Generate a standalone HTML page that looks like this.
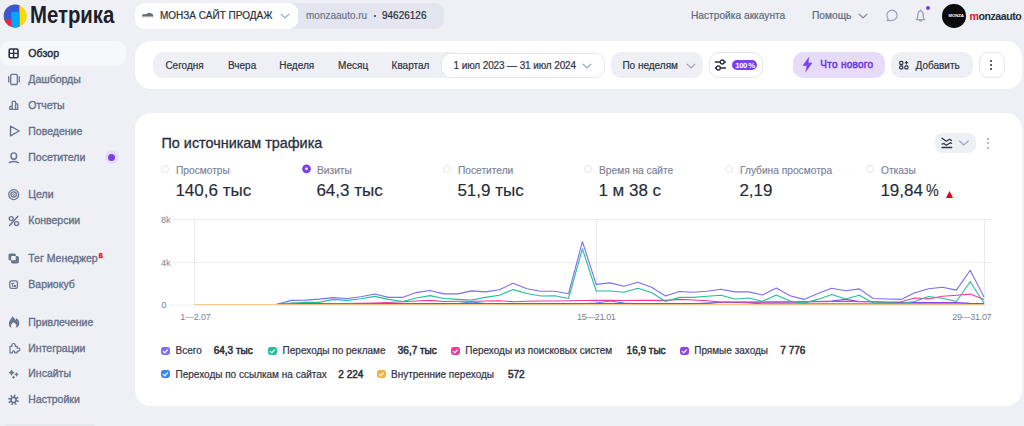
<!DOCTYPE html>
<html><head><meta charset="utf-8">
<style>
*{box-sizing:border-box;margin:0;padding:0}
html,body{width:1024px;height:426px;overflow:hidden;background:#eef0f5;font-family:"Liberation Sans",sans-serif;color:#2a2f3d}
.a{position:absolute}
.t{position:absolute;white-space:nowrap;line-height:1}
.nav{font-size:10.5px;font-weight:normal;color:#66708a;-webkit-text-stroke:0.35px #66708a}
.nav.act{color:#2b303d;-webkit-text-stroke:0.45px #2b303d;letter-spacing:0.12px}
.ic{position:absolute;overflow:visible}
.card{position:absolute;background:#fff;border-radius:16px}
.tb{font-size:10px;color:#2f3444;-webkit-text-stroke:0.2px currentColor}
.pill{position:absolute;border-radius:9px}
.ml{font-size:10.2px;color:#7a8296;-webkit-text-stroke:0.15px #7a8296}
.mv{font-size:17px;color:#262b38;-webkit-text-stroke:0.15px #262b38}
.lg{font-size:10px;color:#2f3444;-webkit-text-stroke:0.2px #2f3444}
.lb{font-size:10px;font-weight:normal;color:#2a2f3d;-webkit-text-stroke:0.5px #2a2f3d}
.cb{position:absolute;width:8.6px;height:8.6px;border-radius:2.4px}
.ax{font-size:9px;color:#7a8296}
</style></head>
<body>
<!-- logo -->
<svg class="ic" style="left:3px;top:4px" width="24" height="24" viewBox="0 0 24 24">
  <defs><clipPath id="lc"><circle cx="12.2" cy="11.9" r="11.5"/></clipPath></defs>
  <g clip-path="url(#lc)">
    <rect x="0" y="0" width="25" height="25" fill="#ffd700"/>
    <rect x="0" y="0" width="16.4" height="25" fill="#3b57d6"/>
    <rect x="0" y="15" width="8.5" height="10" fill="#f4214b"/>
    <rect x="8.2" y="7.8" width="8.2" height="19" rx="1.6" fill="#00a6ff"/>
  </g>
</svg>
<div class="t" style="left:30px;top:4.1px;font-size:23.5px;font-weight:bold;color:#1c202b;transform:scaleX(0.865);transform-origin:0 0">Метрика</div>

<!-- header site selector -->
<div class="a" style="left:135px;top:3px;width:309px;height:26px;background:#e3e6ee;border-radius:9px"></div>
<div class="a" style="left:135px;top:3px;width:163px;height:26px;background:#fff;border-radius:9px"></div>
<svg class="ic" style="left:140px;top:10px" width="16" height="10" viewBox="0 0 16 10"><path d="M2.2 6.6 V4.8 C2.2 4.4 2.6 4.3 3.2 4.2 L6.4 4 L8.2 3 H10.8 L12.3 4.1 C12.9 4.4 13.2 4.8 13.2 5.4 V6.6 Z" fill="#6a6f7a"/><path d="M3.2 6.5 V7.6 M5.2 6.5 V7.6 M7.6 6.5 V7.6 M10 6.5 V7.6 M12.4 6.5 V7.6" stroke="#8a8f99" stroke-width="0.7"/></svg>
<div class="t" style="left:160px;top:11.1px;font-size:10px;color:#2a2f3d;-webkit-text-stroke:0.2px #2a2f3d">МОНЗА САЙТ ПРОДАЖ</div>
<svg class="ic" style="left:280px;top:13px" width="10" height="6" viewBox="0 0 10 6"><path d="M0.8 0.8 L5 5 L9.2 0.8" stroke="#9aa2b4" stroke-width="1.2" fill="none"/></svg>
<div class="t" style="left:306px;top:11.1px;font-size:10px;color:#66708c;-webkit-text-stroke:0.15px #66708c">monzaauto.ru</div>
<div class="a" style="left:374px;top:15px;width:2.3px;height:2.3px;border-radius:50%;background:#2a2f3d"></div>
<div class="t" style="left:382px;top:11.1px;font-size:10px;color:#2a2f3d;-webkit-text-stroke:0.2px #2a2f3d">94626126</div>

<!-- header right -->
<div class="t" style="left:691px;top:11.4px;font-size:10.2px;color:#606a80;-webkit-text-stroke:0.2px #606a80">Настройка аккаунта</div>
<div class="t" style="left:812px;top:11.4px;font-size:10.2px;color:#606a80;-webkit-text-stroke:0.2px #606a80">Помощь</div>
<svg class="ic" style="left:858px;top:13px" width="10" height="6" viewBox="0 0 10 6"><path d="M0.8 0.8 L5 5 L9.2 0.8" stroke="#7d869a" stroke-width="1.2" fill="none"/></svg>
<svg class="ic" style="left:880px;top:4px" width="56" height="24" viewBox="880 4 56 24"><path d="M888 19.9 L887.2 20.6 L891.8 20.4 A5.1 5.1 0 1 0 887.8 18.2 Z" stroke="#9ba4b9" stroke-width="1.3" fill="none" stroke-linejoin="round"/></svg>
<svg class="ic" style="left:880px;top:4px" width="56" height="24" viewBox="880 4 56 24"><path d="M920.5 10.6 C918.6 11.2 917.9 12.8 917.8 14.8 L917.5 18.2 L916.2 19.6 H924.8 L923.5 18.2 L923.2 14.8 C923.1 12.8 922.4 11.2 920.5 10.6 Z M920.5 10.6 V9.9 M919.4 20.4 C919.8 21.3 921.2 21.3 921.6 20.4" stroke="#9ba4b9" stroke-width="1.3" fill="none" stroke-linejoin="round" stroke-linecap="round"/></svg>
<div class="a" style="left:925.8px;top:6.1px;width:4.3px;height:4.3px;border-radius:50%;background:#7b3fe8"></div>
<div class="a" style="left:942px;top:4px;width:23.5px;height:23.5px;border-radius:50%;background:#0b0b0d"></div>
<div class="t" style="left:948.5px;top:13.8px;font-size:4.3px;font-weight:bold;color:#fff;letter-spacing:-0.1px">MONZA</div>
<div class="t" style="left:969.5px;top:10.5px;font-size:10.6px;font-weight:bold;color:#2b2f3a;letter-spacing:-0.45px"><span style="color:#e3162b">m</span>onzaauto</div>

<!-- sidebar -->
<div class="a" style="left:0;top:40.5px;width:126px;height:25.5px;background:#f7f8fb;border-radius:10px"></div>
<svg class="ic" style="left:8px;top:48px" width="11" height="11" viewBox="0 0 11 11"><rect x="1.2" y="1" width="8.8" height="8.8" rx="1.2" stroke="#2a2f3d" stroke-width="1.6" fill="none"/><path d="M5.6 1 V9.8 M1.2 5.4 H10" stroke="#2a2f3d" stroke-width="1.4"/></svg>
<div class="t nav act" style="left:28.3px;top:47.8px">Обзор</div>

<svg class="ic" style="left:8px;top:73px" width="13" height="12" viewBox="0 0 13 12"><rect x="2.7" y="1.3" width="6.6" height="10.2" rx="1.1" stroke="#6b7590" stroke-width="1.3" fill="none"/><path d="M0.7 3.2 V9.6 M11.3 3.2 V9.6" stroke="#6b7590" stroke-width="1.3"/></svg>
<div class="t nav" style="left:28.3px;top:73.8px">Дашборды</div>

<svg class="ic" style="left:6px;top:98px" width="16" height="16" viewBox="0 0 16 16"><path d="M3.85 11.35 V8.9 Q3.85 8.35 4.4 8.35 H6.2 V4 Q6.2 3.45 6.75 3.45 H9.05 Q9.6 3.45 9.6 4 V5.95 H11.2 Q11.75 5.95 11.75 6.5 V11.35 Z M6.2 8.35 V11.35 M9.6 5.95 V11.35" stroke="#6b7590" stroke-width="1.3" fill="none" stroke-linejoin="round"/></svg>
<div class="t nav" style="left:28.3px;top:99.8px">Отчеты</div>

<svg class="ic" style="left:9px;top:125px" width="12" height="12" viewBox="0 0 12 12"><path d="M1.5 1.2 L10.2 6 L1.5 10.8 Z" stroke="#6b7590" stroke-width="1.4" fill="none" stroke-linejoin="round"/></svg>
<div class="t nav" style="left:28.3px;top:126.0px">Поведение</div>

<svg class="ic" style="left:6px;top:150px" width="16" height="16" viewBox="0 0 16 16"><ellipse cx="7.8" cy="6" rx="2.85" ry="3.15" stroke="#6b7590" stroke-width="1.45" fill="none"/><path d="M3.3 12.6 Q7.8 10.4 12.3 12.6" stroke="#6b7590" stroke-width="1.45" fill="none" stroke-linecap="round"/></svg>
<div class="t nav" style="left:28.3px;top:152.1px">Посетители</div>
<div class="a" style="left:104.5px;top:150px;width:14px;height:14px;border-radius:50%;background:#e7ddfb"></div>
<div class="a" style="left:108px;top:153.5px;width:7px;height:7px;border-radius:50%;background:#7b3fe8"></div>

<svg class="ic" style="left:6px;top:187px" width="16" height="16" viewBox="0 0 16 16"><g stroke="#6b7590" fill="none"><circle cx="7.7" cy="7.6" r="4.95" stroke-width="1.3"/><circle cx="7.7" cy="7.6" r="2.65" stroke-width="1.3"/><circle cx="7.7" cy="7.6" r="0.8" stroke-width="1"/></g></svg>
<div class="t nav" style="left:28.3px;top:189.2px">Цели</div>

<svg class="ic" style="left:8px;top:215px" width="12" height="12" viewBox="0 0 12 12"><circle cx="3.2" cy="3.6" r="2" stroke="#6b7590" stroke-width="1.4" fill="none"/><circle cx="8.6" cy="8.6" r="2" stroke="#6b7590" stroke-width="1.4" fill="none"/><path d="M9.8 1.4 L1.6 10.4" stroke="#6b7590" stroke-width="1.5" stroke-linecap="round"/></svg>
<div class="t nav" style="left:28.3px;top:215.3px">Конверсии</div>

<svg class="ic" style="left:6px;top:250px" width="16" height="16" viewBox="0 0 16 16"><g fill="#6b7590"><rect x="2.5" y="3.5" width="7.4" height="6.9" rx="1.6"/><rect x="5" y="5.9" width="7.9" height="7.5" rx="1.6"/></g><rect x="5.2" y="6.1" width="4.5" height="4.1" rx="0.4" fill="#eef0f5"/></svg>
<div class="t nav" style="left:28.3px;top:252.8px">Тег Менеджер</div>
<div class="t" style="left:98.6px;top:252px;font-size:7.2px;font-weight:bold;color:#e0142d;-webkit-text-stroke:0.4px #e0142d">ß</div>

<svg class="ic" style="left:6px;top:250px" width="16" height="42" viewBox="0 0 16 42"><rect x="3.8" y="30.8" width="7.6" height="7.5" rx="1.6" stroke="#6b7590" stroke-width="1.3" fill="none"/><path d="M5.2 33.4 H8.4 M6.4 33.4 V36.8" stroke="#6b7590" stroke-width="1"/><rect x="7.6" y="35" width="2.4" height="2" fill="#6b7590"/></svg>
<div class="t nav" style="left:28.3px;top:278.9px">Вариокуб</div>

<svg class="ic" style="left:6px;top:314px" width="16" height="16" viewBox="0 0 16 16"><path d="M6.4 2.2 C8 3.6 9 4.8 9.6 6.2 C10 5.4 10.3 4.7 10.5 4.1 C12.3 5.6 13.3 7.6 13.3 9.6 C13.3 11.8 12 13 10.2 13.6 L9.4 13.6 C10.2 12.8 10.4 12 10.3 11.2 C10.1 10.2 9.2 9.2 7.6 8.2 C6 9.2 5.1 10.2 4.9 11.2 C4.8 12 5 12.8 5.8 13.6 L5 13.6 C3.4 12.9 2.9 11.6 2.9 9.9 C2.9 7.6 4 6.2 5 4.8 C5.6 4 6.2 3.2 6.4 2.2 Z" fill="#6b7590"/></svg>
<div class="t nav" style="left:28.3px;top:316.6px">Привлечение</div>

<svg class="ic" style="left:8.5px;top:342px" width="12" height="12" viewBox="0 0 12 12"><path d="M1 10.8 V4.4 H3 C2.6 3.4 3 1.5 4.6 1.5 C6.2 1.5 6.6 3.4 6.2 4.4 H8.2 V6.2 C9.4 5.8 11 6.4 11 7.6 C11 8.8 9.4 9.4 8.2 9 V10.8 H5.6 C5.9 9.8 5.5 8.8 4.6 8.8 C3.7 8.8 3.3 9.8 3.6 10.8 Z" stroke="#6b7590" stroke-width="1.2" fill="none" stroke-linejoin="round"/></svg>
<div class="t nav" style="left:28.3px;top:342.5px">Интеграции</div>

<svg class="ic" style="left:6px;top:366px" width="16" height="16" viewBox="0 0 16 16"><path d="M5.60 3.50 Q6.47 5.73 8.70 6.60 Q6.47 7.47 5.60 9.70 Q4.73 7.47 2.50 6.60 Q4.73 5.73 5.60 3.50 Z M10.50 6.30 Q11.12 7.88 12.70 8.50 Q11.12 9.12 10.50 10.70 Q9.88 9.12 8.30 8.50 Q9.88 7.88 10.50 6.30 Z M7.50 9.60 Q7.98 10.82 9.20 11.30 Q7.98 11.78 7.50 13.00 Q7.02 11.78 5.80 11.30 Q7.02 10.82 7.50 9.60 Z" fill="#6b7590"/></svg>
<div class="t nav" style="left:28.3px;top:368.4px">Инсайты</div>

<svg class="ic" style="left:6px;top:392px" width="16" height="16" viewBox="0 0 16 16"><path fill-rule="evenodd" fill="#6b7590" d="M7.68 4.50 L8.27 2.45 L9.74 2.88 L9.15 4.93 L10.03 5.62 L11.89 4.59 L12.63 5.93 L10.77 6.96 L10.90 8.08 L12.95 8.67 L12.52 10.14 L10.47 9.55 L9.78 10.43 L10.81 12.29 L9.47 13.03 L8.44 11.17 L7.32 11.30 L6.73 13.35 L5.26 12.92 L5.85 10.87 L4.97 10.18 L3.11 11.21 L2.37 9.87 L4.23 8.84 L4.10 7.72 L2.05 7.13 L2.48 5.66 L4.53 6.25 L5.22 5.37 L4.19 3.51 L5.53 2.77 L6.56 4.63 Z M9.25 7.90 A1.75 1.75 0 1 0 5.75 7.90 A1.75 1.75 0 1 0 9.25 7.90 Z"/></svg>
<div class="t nav" style="left:28.3px;top:394.3px">Настройки</div>

<div class="a" style="left:4px;top:424.3px;width:92px;height:10px;border-radius:7px;background:#e4e7ee"></div>

<!-- toolbar card -->
<div class="card" style="left:135px;top:40.5px;width:887px;height:48.5px"></div>
<div class="pill" style="left:152.5px;top:52px;width:312px;height:25.8px;background:#eef0f5;border-radius:10px"></div>
<div class="t tb" style="left:165.4px;top:61px">Сегодня</div>
<div class="t tb" style="left:228px;top:61px">Вчера</div>
<div class="t tb" style="left:279.3px;top:61px">Неделя</div>
<div class="t tb" style="left:338px;top:61px">Месяц</div>
<div class="t tb" style="left:391.6px;top:61px">Квартал</div>
<div class="pill" style="left:441.2px;top:52.6px;width:163.5px;height:25px;background:#fff;border:1px solid #e6e8ef;border-radius:10px"></div>
<div class="t tb" style="left:453.6px;top:61px;letter-spacing:-0.12px">1 июл 2023 — 31 июл 2024</div>
<svg class="ic" style="left:581.5px;top:62.5px" width="10" height="6" viewBox="0 0 10 6"><path d="M0.8 0.8 L5 5 L9.2 0.8" stroke="#9aa2b4" stroke-width="1.2" fill="none"/></svg>
<div class="pill" style="left:611px;top:52px;width:92px;height:26px;background:#eef0f5;border-radius:10px"></div>
<div class="t tb" style="left:622.4px;top:61px">По неделям</div>
<svg class="ic" style="left:685.5px;top:62.5px" width="10" height="6" viewBox="0 0 10 6"><path d="M0.8 0.8 L5 5 L9.2 0.8" stroke="#9aa2b4" stroke-width="1.2" fill="none"/></svg>
<div class="pill" style="left:709px;top:52px;width:54px;height:25.5px;background:#fff;border:1px solid #e4e6ee;border-radius:10px"></div>
<svg class="ic" style="left:714px;top:59px" width="13" height="12" viewBox="0 0 13 12"><path d="M0.8 3 H12 M0.8 9 H12" stroke="#2a2f3d" stroke-width="1.3"/><circle cx="8.2" cy="3" r="2" fill="#fff" stroke="#2a2f3d" stroke-width="1.3"/><circle cx="4.3" cy="9" r="2" fill="#fff" stroke="#2a2f3d" stroke-width="1.3"/></svg>
<div class="pill" style="left:732px;top:60px;width:24.5px;height:9.6px;background:#7b42ea;border-radius:5px"></div>
<div class="t" style="left:735.3px;top:61.6px;font-size:7.8px;font-weight:bold;color:#fff;letter-spacing:-0.45px">100<span style="letter-spacing:-1px"> </span>%</div>

<div class="pill" style="left:793px;top:52px;width:92px;height:25.5px;background:#e6dcfa;border-radius:10px"></div>
<svg class="ic" style="left:801.5px;top:57px" width="11" height="15" viewBox="0 0 11 15"><path d="M6.8 0.5 L1 8.6 H5 L3.8 14.5 L10 6 H6 Z" fill="#7b42ea" stroke="#7b42ea" stroke-width="0.6" stroke-linejoin="round"/></svg>
<div class="t tb" style="left:820.3px;top:60.3px;font-weight:normal;color:#6d3ad8;font-size:10px;letter-spacing:0.28px;-webkit-text-stroke:0.5px #6d3ad8">Что нового</div>
<div class="pill" style="left:891px;top:52px;width:81.5px;height:25.5px;background:#eef0f5;border-radius:10px"></div>
<svg class="ic" style="left:899px;top:60px" width="10" height="10" viewBox="0 0 10 10"><g stroke="#2a2f3d" stroke-width="1.1" fill="none"><rect x="0.7" y="1.4" width="3.2" height="3" rx="1"/><rect x="0.7" y="5.9" width="3.2" height="3" rx="1"/><rect x="5.8" y="5.9" width="3.2" height="3" rx="1"/><path d="M7.4 1 V4.6 M5.6 2.8 H9.2"/></g></svg>
<div class="t tb" style="left:915.5px;top:61px">Добавить</div>
<div class="pill" style="left:978.5px;top:52px;width:26px;height:25.5px;background:#fff;border:1px solid #e4e6ee;border-radius:9px"></div>
<div class="a" style="left:990px;top:59.5px;width:2.4px;height:2.4px;border-radius:50%;background:#2a2f3d"></div>
<div class="a" style="left:990px;top:63.8px;width:2.4px;height:2.4px;border-radius:50%;background:#2a2f3d"></div>
<div class="a" style="left:990px;top:68.1px;width:2.4px;height:2.4px;border-radius:50%;background:#2a2f3d"></div>

<!-- main card -->
<div class="card" style="left:135px;top:112.5px;width:887px;height:293.5px"></div>
<div class="t" style="left:161.5px;top:135.7px;font-size:14.4px;color:#2a2f3d;-webkit-text-stroke:0.3px #2a2f3d">По источникам трафика</div>
<div class="pill" style="left:935px;top:133px;width:40.5px;height:20px;background:#eef0f5;border-radius:8px"></div>
<svg class="ic" style="left:932px;top:130px" width="48" height="26" viewBox="932 130 48 26"><path d="M942 138.2 L946.4 141.2 L949.6 139.3 L951.5 140.5 M942 144.1 L943.9 143.5 L946.4 145.2 L950.3 142.7 L951.5 143.3 M942 147.5 H951.7" stroke="#2f3444" stroke-width="1.3" fill="none" stroke-linecap="round" stroke-linejoin="round"/></svg>
<svg class="ic" style="left:932px;top:130px" width="48" height="26" viewBox="932 130 48 26"><path d="M959.4 140.7 L963.7 144.9 L968.6 140.7" stroke="#9aa5bd" stroke-width="1.3" fill="none"/></svg>
<div class="a" style="left:987.3px;top:137.6px;width:2px;height:2px;border-radius:50%;background:#9aa3b5"></div>
<div class="a" style="left:987.3px;top:142.3px;width:2px;height:2px;border-radius:50%;background:#9aa3b5"></div>
<div class="a" style="left:987.3px;top:147px;width:2px;height:2px;border-radius:50%;background:#9aa3b5"></div>

<!-- metrics -->
<div class="a" style="left:161.3px;top:165.3px;width:8px;height:8px;border-radius:50%;border:1px solid #e3e5ea"></div>
<div class="t ml" style="left:176px;top:166px">Просмотры</div>
<div class="t mv" style="left:175.4px;top:182.3px">140,6 тыс</div>

<svg class="ic" style="left:300px;top:163px" width="13" height="13" viewBox="0 0 13 13"><circle cx="6.5" cy="5.85" r="2.85" stroke="#7b42ea" stroke-width="3.1" fill="#fff"/></svg>
<div class="t ml" style="left:317px;top:166px">Визиты</div>
<div class="t mv" style="left:316.4px;top:182.3px">64,3 тыс</div>

<div class="a" style="left:443.3px;top:165.3px;width:8px;height:8px;border-radius:50%;border:1px solid #e3e5ea"></div>
<div class="t ml" style="left:458px;top:166px">Посетители</div>
<div class="t mv" style="left:457.4px;top:182.3px">51,9 тыс</div>

<div class="a" style="left:584.3px;top:165.3px;width:8px;height:8px;border-radius:50%;border:1px solid #e3e5ea"></div>
<div class="t ml" style="left:599px;top:166px">Время на сайте</div>
<div class="t mv" style="left:598.4px;top:182.3px">1 м 38 с</div>

<div class="a" style="left:725.3px;top:165.3px;width:8px;height:8px;border-radius:50%;border:1px solid #e3e5ea"></div>
<div class="t ml" style="left:740px;top:166px">Глубина просмотра</div>
<div class="t mv" style="left:739.4px;top:182.3px">2,19</div>

<div class="a" style="left:866.3px;top:165.3px;width:8px;height:8px;border-radius:50%;border:1px solid #e3e5ea"></div>
<div class="t ml" style="left:881px;top:166px">Отказы</div>
<div class="t mv" style="left:880.4px;top:182.3px">19,84<span style="position:absolute;left:45.2px;top:0;display:inline-block;transform:scaleX(0.84);transform-origin:0 0">%</span></div>
<svg class="ic" style="left:946px;top:190.5px" width="7" height="7" viewBox="0 0 7 7"><path d="M3.5 0.1 L7 7 H0 Z" fill="#e0001a"/></svg>

<!-- chart -->
<svg class="ic" style="left:0;top:0" width="1024" height="426" viewBox="0 0 1024 426">
  <g stroke="#e9ebf0" stroke-width="1">
    <path d="M173 219.5 H992 M173 262.5 H992 M169 305 H992"/>
    <path d="M194.5 219 V308 M596.5 219 V308 M984.5 219 V308"/>
  </g>
  <g fill="none" stroke-width="1.1" stroke-linejoin="round">
    <polyline stroke="#3d85f5" points="277.7,303.9 291.6,303.9 305.4,303.9 319.2,303.9 333.1,303.9 346.9,303.9 360.8,303.9 374.6,303.9 388.5,303.9 402.4,303.9 416.2,303.9 430.0,303.9 443.9,303.9 457.8,303.5 471.6,302 485.4,303.5 499.3,303.9 513.1,303.9 527.0,303.9 540.9,303.9 554.7,303.9 568.5,303.9 582.4,303.9 596.2,303 610.1,301 623.9,303 637.8,303.9 651.6,303.9 665.5,303.9 679.4,303.9 693.2,303.9 707.0,303 720.9,302.5 734.8,302.5 748.6,303 762.5,303.9 776.3,303.9 790.1,303.9 804.0,303.9 817.9,303.9 831.7,303.9 845.5,303.9 859.4,303.9 873.2,303.9 887.1,303.9 901.0,303.9 914.8,303.9 928.6,303.9 942.5,303.9 956.4,303.9 970.2,303.9 984.0,303.9"/>
    <polyline stroke="#8b45ea" points="277.7,304 291.6,303.5 305.4,303.5 319.2,303.5 333.1,303.5 346.9,303.5 360.8,303.5 374.6,303.5 388.5,303.5 402.4,303.5 416.2,303.5 430.0,303.5 443.9,303.5 457.8,303.5 471.6,303.5 485.4,303.5 499.3,303.5 513.1,303.5 527.0,303.5 540.9,303.5 554.7,303.5 568.5,303.5 582.4,303.5 596.2,303.5 610.1,303.5 623.9,303.5 637.8,303.5 651.6,303.5 665.5,303.5 679.4,303.5 693.2,303.5 707.0,303.5 720.9,302.3 734.8,302.3 748.6,302.3 762.5,302.3 776.3,302.3 790.1,302.3 804.0,301.7 817.9,301.5 831.7,301 845.5,299.4 859.4,301.5 873.2,301.7 887.1,302.5 901.0,302.5 914.8,302.5 928.6,302.5 942.5,302.5 956.4,302.5 970.2,303.4 984.0,303.6"/>
    <polyline stroke="#f2389a" points="277.7,304 291.6,304 305.4,304 319.2,304 333.1,303.5 346.9,303.5 360.8,303.3 374.6,303 388.5,302.5 402.4,301.7 416.2,301 430.0,300.4 443.9,301.5 457.8,301.3 471.6,301.2 485.4,301 499.3,300.8 513.1,301.7 527.0,301.2 540.9,301 554.7,301 568.5,300.8 582.4,300.5 596.2,300.4 610.1,300.4 623.9,300.5 637.8,300.4 651.6,300.4 665.5,300.4 679.4,299.4 693.2,300 707.0,300.8 720.9,302 734.8,302 748.6,302 762.5,302 776.3,301.7 790.1,301.7 804.0,301.7 817.9,301.7 831.7,301.5 845.5,301.2 859.4,301.7 873.2,301.7 887.1,302 901.0,301.8 914.8,298 928.6,298.9 942.5,296.3 956.4,295.3 970.2,294.1 984.0,299.5"/>
    <polyline stroke="#22bf9a" points="277.7,304 291.6,303 305.4,302.4 319.2,302.4 333.1,299.4 346.9,300.4 360.8,298.7 374.6,296.4 388.5,299.4 402.4,301.5 416.2,298 430.0,295.6 443.9,298.5 457.8,299.4 471.6,300 485.4,297.4 499.3,295.3 513.1,289.6 527.0,293.5 540.9,296 554.7,295.7 568.5,298.5 582.4,248.8 596.2,291 610.1,291 623.9,292.3 637.8,288.2 651.6,292.5 665.5,301.5 679.4,297.4 693.2,297.4 707.0,296.3 720.9,295.3 734.8,299 748.6,298 762.5,301.2 776.3,295 790.1,301 804.0,303.1 817.9,299.4 831.7,294.6 845.5,299 859.4,295.3 873.2,303.1 887.1,302.8 901.0,303.2 914.8,301.5 928.6,296.5 942.5,298.2 956.4,301.5 970.2,281.7 984.0,303"/>
    <polyline stroke="#7c6ef2" points="277.7,304 291.6,300.4 305.4,300.1 319.2,299.1 333.1,297.6 346.9,298.5 360.8,296.7 374.6,294 388.5,297.4 402.4,297.4 416.2,292.6 430.0,290.5 443.9,293.9 457.8,293.9 471.6,290.9 485.4,291.9 499.3,289.8 513.1,283.3 527.0,288.8 540.9,291.3 554.7,291.3 568.5,293.8 582.4,241.6 596.2,284.4 610.1,282.9 623.9,286.3 637.8,282.2 651.6,287.2 665.5,296 679.4,291.5 693.2,292.2 707.0,291.2 720.9,289.2 734.8,291.9 748.6,291.9 762.5,295 776.3,288 790.1,295.7 804.0,299.4 817.9,293.5 831.7,288.2 845.5,290.8 859.4,288.9 873.2,298.5 887.1,299 901.0,299.4 914.8,292.8 928.6,288.8 942.5,287.3 956.4,290.1 970.2,270.2 984.0,296.9"/>
    <path d="M194.6 304.6 H984" stroke="#f4c27e" stroke-width="1"/>
  </g>
</svg>
<div class="t ax" style="left:161px;top:215.5px">8k</div>
<div class="t ax" style="left:161px;top:258.5px">4k</div>
<div class="t ax" style="left:161.5px;top:300.5px">0</div>
<div class="t ax" style="left:180.2px;top:313.3px;letter-spacing:-0.2px">1—2.07</div>
<div class="t ax" style="left:577px;top:313.3px;letter-spacing:-0.38px">15—21.01</div>
<div class="t ax" style="left:952.2px;top:313.3px;letter-spacing:-0.3px">29—31.07</div>

<!-- legend -->
<div class="cb" style="left:161.2px;top:346.6px;background:#7c6ef2"><svg width="8.6" height="8.6" viewBox="0 0 9 9" style="display:block"><path d="M2.3 4.6 L3.9 6.1 L6.8 3" stroke="#fff" stroke-width="1.3" fill="none" stroke-linecap="round" stroke-linejoin="round"/></svg></div>
<div class="t lg" style="left:175.5px;top:346.3px">Всего</div>
<div class="t lb" style="left:213.7px;top:346.3px">64,3 тыс</div>
<div class="cb" style="left:268px;top:346.6px;background:#22bf9a"><svg width="8.6" height="8.6" viewBox="0 0 9 9" style="display:block"><path d="M2.3 4.6 L3.9 6.1 L6.8 3" stroke="#fff" stroke-width="1.3" fill="none" stroke-linecap="round" stroke-linejoin="round"/></svg></div>
<div class="t lg" style="left:282.6px;top:346.3px">Переходы по рекламе</div>
<div class="t lb" style="left:397.8px;top:346.3px">36,7 тыс</div>
<div class="cb" style="left:451px;top:346.6px;background:#f2389a"><svg width="8.6" height="8.6" viewBox="0 0 9 9" style="display:block"><path d="M2.3 4.6 L3.9 6.1 L6.8 3" stroke="#fff" stroke-width="1.3" fill="none" stroke-linecap="round" stroke-linejoin="round"/></svg></div>
<div class="t lg" style="left:465.2px;top:346.3px">Переходы из поисковых систем</div>
<div class="t lb" style="left:626.6px;top:346.3px">16,9 тыс</div>
<div class="cb" style="left:680px;top:346.6px;background:#8b45ea"><svg width="8.6" height="8.6" viewBox="0 0 9 9" style="display:block"><path d="M2.3 4.6 L3.9 6.1 L6.8 3" stroke="#fff" stroke-width="1.3" fill="none" stroke-linecap="round" stroke-linejoin="round"/></svg></div>
<div class="t lg" style="left:694.2px;top:346.3px">Прямые заходы</div>
<div class="t lb" style="left:780.3px;top:346.3px">7 776</div>

<div class="cb" style="left:161.2px;top:369.8px;background:#3d85f5"><svg width="8.6" height="8.6" viewBox="0 0 9 9" style="display:block"><path d="M2.3 4.6 L3.9 6.1 L6.8 3" stroke="#fff" stroke-width="1.3" fill="none" stroke-linecap="round" stroke-linejoin="round"/></svg></div>
<div class="t lg" style="left:175.5px;top:369.8px">Переходы по ссылкам на сайтах</div>
<div class="t lb" style="left:338.3px;top:369.8px">2 224</div>
<div class="cb" style="left:377px;top:369.8px;background:#f7ad3e"><svg width="8.6" height="8.6" viewBox="0 0 9 9" style="display:block"><path d="M2.3 4.6 L3.9 6.1 L6.8 3" stroke="#fff" stroke-width="1.3" fill="none" stroke-linecap="round" stroke-linejoin="round"/></svg></div>
<div class="t lg" style="left:391px;top:369.8px">Внутренние переходы</div>
<div class="t lb" style="left:507.9px;top:369.8px">572</div>

</body></html>
